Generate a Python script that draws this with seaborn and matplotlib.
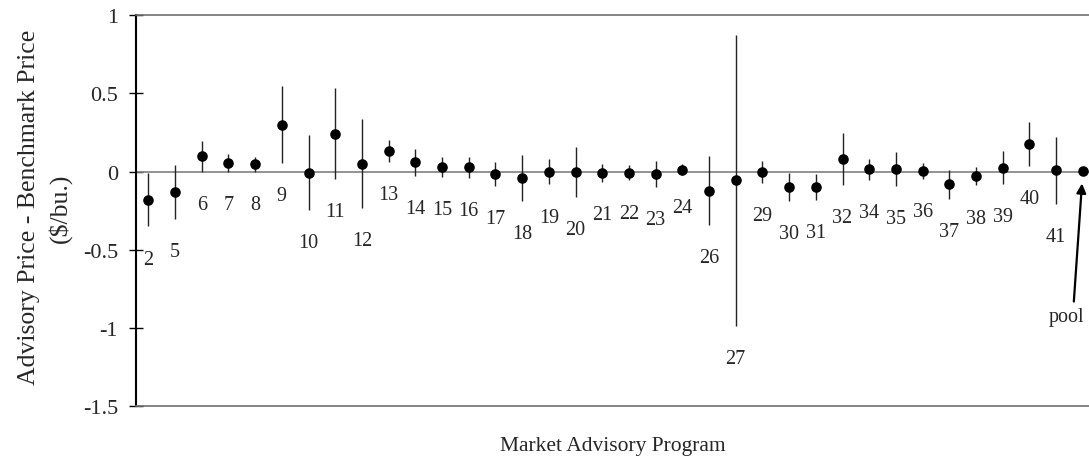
import matplotlib
matplotlib.use('Agg')
import matplotlib.pyplot as plt
import seaborn as sns
import pandas as pd

programs = ['2', '5', '6', '7', '8', '9', '10', '11', '12', '13', '14', '15', '16',
            '17', '18', '19', '20', '21', '22', '23', '24', '26', '27', '29', '30',
            '31', '32', '34', '35', '36', '37', '38', '39', '40', '41', 'pool']
mean_diff = [-0.18, -0.13, 0.097, 0.055, 0.046, 0.30, -0.006, 0.243, 0.051, 0.13,
             0.06, 0.032, 0.028, -0.015, -0.042, 0.0, -0.002, -0.01, -0.006, -0.015,
             0.012, -0.121, -0.055, 0.0, -0.098, -0.1, 0.08, 0.015, 0.016, 0.004,
             -0.082, -0.03, 0.024, 0.176, 0.008, 0.004]
half_width = [0.17, 0.17, 0.098, 0.055, 0.046, 0.245, 0.239, 0.288, 0.283, 0.069,
              0.086, 0.064, 0.068, 0.074, 0.148, 0.082, 0.162, 0.056, 0.05, 0.082,
              0.035, 0.219, 0.93, 0.07, 0.091, 0.082, 0.166, 0.067, 0.11, 0.053,
              0.095, 0.058, 0.105, 0.142, 0.214, 0.0]

df = pd.DataFrame({'program': programs, 'mean': mean_diff, 'hw': half_width})
df['pos'] = range(len(df))
df['low'] = df['mean'] - df['hw']
df['high'] = df['mean'] + df['hw']

sns.set_style('white')
plt.rcParams['font.family'] = ['Liberation Serif', 'DejaVu Serif']

fig = plt.figure(figsize=(10.89, 4.64), dpi=100)
ax = fig.add_axes([0.1246, 0.1218, 0.8754, 0.8437])

# zero line
ax.axhline(0, color='#808080', lw=1.2, zorder=1)

# error bars
bars = df[df['hw'] > 0]
ax.vlines(bars['pos'], bars['low'], bars['high'], color='#222222', lw=1.0, zorder=2)

sns.scatterplot(data=df, x='pos', y='mean', color='black', s=58, edgecolor='black',
                linewidth=0, zorder=3, ax=ax)

# program labels below each error bar
for _, r in bars.iterrows():
    ax.annotate(r['program'], xy=(r['pos'], r['low']), xytext=(0, -23.5),
                textcoords='offset points', ha='center', va='center', fontsize=14.5)

# pool label with arrow
pool = df.iloc[-1]
ax.annotate('', xy=(pool['pos'], pool['mean']), xytext=(-6.5, -94),
            textcoords='offset points',
            arrowprops=dict(arrowstyle='-|>', color='black', lw=1.6,
                            shrinkA=0, shrinkB=9, mutation_scale=14))
ax.annotate('pool', xy=(pool['pos'], pool['mean']), xytext=(-12, -105),
            textcoords='offset points', ha='center', va='center', fontsize=14.5)

ax.set_xlim(-0.472, 35.23)
ax.set_ylim(-1.5, 1)
ax.set_yticks([1, 0.5, 0, -0.5, -1, -1.5])
ax.set_yticklabels(['1', '0.5', '0', '-0.5', '-1', '-1.5'])
ax.set_xticks([])
ax.tick_params(axis='y', direction='inout', length=9.5, width=1, color='black',
               labelsize=16, pad=8, left=True)

for side in ['top', 'bottom']:
    ax.spines[side].set_color('#707070')
    ax.spines[side].set_linewidth(1.2)
ax.spines['right'].set_visible(False)
ax.spines['left'].set_color('black')
ax.spines['left'].set_linewidth(1.5)

ax.set_xlabel('Market Advisory Program', fontsize=15.5, labelpad=21)
ax.set_ylabel('Advisory Price - Benchmark Price\n($/bu.)', fontsize=18.5,
              linespacing=1.45)
ax.yaxis.set_label_coords(-0.067, 0.51)

fig.savefig('out.png', dpi=100)
